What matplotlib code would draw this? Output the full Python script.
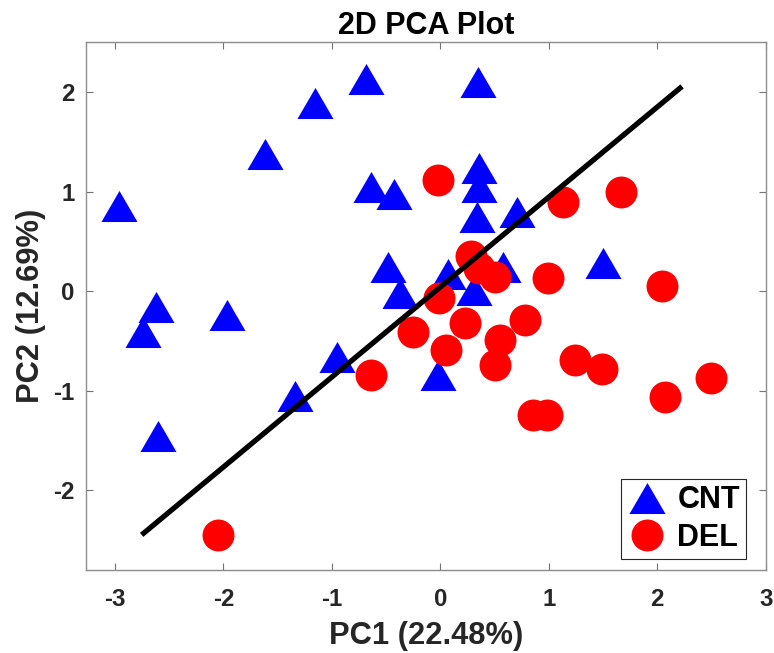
import numpy as np
import matplotlib.pyplot as plt
from matplotlib.path import Path

plt.rcParams['font.family'] = ['Liberation Sans', 'DejaVu Sans']
plt.rcParams['font.weight'] = 'bold'
plt.rcParams['axes.labelweight'] = 'bold'
plt.rcParams['axes.titleweight'] = 'bold'
plt.rcParams['axes.unicode_minus'] = False

# PCA scores
cnt_pc1 = [-2.96, -2.74, -2.62, -2.60, -1.97, -1.62, -1.16, -0.69, -0.64, -0.43,
           -0.48, -0.37, -0.95, -1.34, -0.02, 0.07, 0.31, 0.35, 0.36, 0.36,
           0.34, 0.71, 0.58, 1.50]
cnt_pc2 = [0.86, -0.41, -0.16, -1.45, -0.24, 1.38, 1.89, 2.13, 1.05, 0.98,
           0.24, -0.02, -0.66, -1.05, -0.84, 0.17, 0.01, 2.10, 1.24, 1.05,
           0.75, 0.80, 0.24, 0.28]

del_pc1 = [-0.02, 1.13, 1.67, 0.28, 0.36, 0.50, 0.99, 2.04, -0.01, -0.25,
           0.23, 0.78, 0.55, 0.05, 0.50, 1.24, 1.49, 2.50, 2.07, 0.85,
           0.98, -0.64, -2.05]
del_pc2 = [1.12, 0.90, 1.00, 0.35, 0.23, 0.14, 0.13, 0.05, -0.07, -0.41,
           -0.32, -0.29, -0.49, -0.59, -0.74, -0.69, -0.78, -0.87, -1.06, -1.24,
           -1.24, -0.84, -2.45]

# separating line end points
line_x = [-2.735, 2.21]
line_y = [-2.43, 2.04]

xticks = [-3, -2, -1, 0, 1, 2, 3]
yticks = [-2, -1, 0, 1, 2]

# matlab-like triangle (wider than tall)
tri = Path([(-1, -0.86), (1, -0.86), (0, 0.86), (-1, -0.86)],
           [Path.MOVETO, Path.LINETO, Path.LINETO, Path.CLOSEPOLY])

fig = plt.figure(figsize=(7.74, 6.53), dpi=100)
ax = fig.add_axes([0.1107, 0.1271, 0.8786, 0.8081])

ax.plot(cnt_pc1, cnt_pc2, linestyle='none', marker=tri, markersize=26,
        color='blue', markeredgewidth=0, label='CNT')
ax.plot(del_pc1, del_pc2, linestyle='none', marker='o', markersize=23,
        color='red', markeredgewidth=0, label='DEL')
ax.plot(line_x, line_y, color='black', linewidth=3.8)

ax.set_xlim(-3.27, 3)
ax.set_ylim(-2.8, 2.5)
ax.set_xticks(xticks)
ax.set_yticks(yticks)

ax.tick_params(direction='in', top=True, right=True, length=5, width=0.8,
               color='0.45', labelsize=17.3, labelcolor='#262626')
ax.tick_params(axis='x', pad=13)
ax.tick_params(axis='y', pad=8)
for s in ax.spines.values():
    s.set_color('0.55')
    s.set_linewidth(1.0)

ax.set_xlabel('PC1 (22.48%)', fontsize=22.2, color='#262626', labelpad=7)
ax.set_ylabel('PC2 (12.69%)', fontsize=22.2, color='#262626', labelpad=5)
ax.set_title('2D PCA Plot', fontsize=22, color='black', pad=6)

leg = ax.legend(loc='lower right', bbox_to_anchor=(0.971, 0.0208),
                borderaxespad=0, fancybox=False, fontsize=22,
                handlelength=1.3, handletextpad=0.35, labelspacing=0.25,
                borderpad=0.2, framealpha=1)
leg.get_frame().set_edgecolor('#262626')
leg.get_frame().set_linewidth(0.8)

fig.savefig('out.png', dpi=100)
